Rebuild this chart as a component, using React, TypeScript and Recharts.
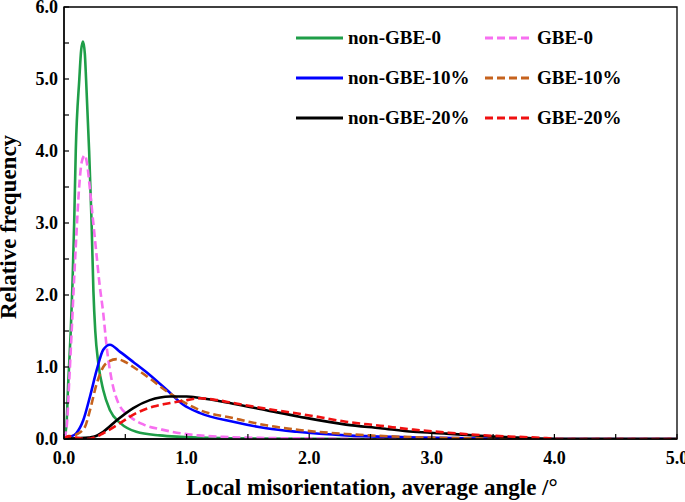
import React from 'react';
import { LineChart, Line, XAxis, YAxis, ReferenceArea, Legend } from 'recharts';

// [angle, relative frequency] pairs
const nonGbe0: [number, number][] = [
  [0, 0], [0.02, 0.2], [0.035, 0.8], [0.055, 1.5], [0.07, 2.2], [0.083, 3.0], [0.096, 4.0],
  [0.125, 5.0], [0.14, 5.4], [0.155, 5.52], [0.17, 5.35], [0.18, 5.0], [0.205, 4.0],
  [0.225, 3.0], [0.24, 2.05], [0.255, 1.5], [0.28, 1.05], [0.32, 0.68], [0.375, 0.4],
  [0.46, 0.22], [0.59, 0.1], [0.78, 0.05], [0.95, 0.03], [1.2, 0.015], [1.6, 0.005],
  [2.5, 0], [5, 0],
];
const gbe0: [number, number][] = [
  [0, 0], [0.022, 0.17], [0.043, 0.82], [0.063, 1.51], [0.082, 2.2], [0.1, 2.8],
  [0.122, 3.46], [0.145, 3.85], [0.17, 3.94], [0.19, 3.8], [0.212, 3.46], [0.239, 3.0],
  [0.267, 2.53], [0.29, 2.15], [0.32, 1.75], [0.348, 1.28], [0.389, 0.82], [0.443, 0.5],
  [0.54, 0.31], [0.65, 0.2], [0.8, 0.13], [0.95, 0.08], [1.1, 0.05], [1.3, 0.03],
  [1.6, 0.015], [2.0, 0.008], [2.6, 0], [5, 0],
];
const nonGbe10: [number, number][] = [
  [0, 0], [0.05, 0.03], [0.1, 0.08], [0.157, 0.26], [0.212, 0.59], [0.267, 0.96],
  [0.32, 1.24], [0.375, 1.31], [0.457, 1.21], [0.565, 1.07], [0.7, 0.89], [0.84, 0.68],
  [0.97, 0.48], [1.11, 0.36], [1.38, 0.24], [1.65, 0.15], [1.9, 0.1], [2.3, 0.05],
  [2.8, 0.025], [3.3, 0.01], [3.8, 0], [5, 0],
];
const gbe10: [number, number][] = [
  [0, 0], [0.05, 0.02], [0.1, 0.06], [0.171, 0.17], [0.212, 0.4], [0.267, 0.77],
  [0.32, 1.0], [0.37, 1.08], [0.43, 1.11], [0.5, 1.07], [0.565, 1.0], [0.7, 0.84],
  [0.84, 0.66], [0.97, 0.52], [1.11, 0.4], [1.38, 0.29], [1.65, 0.19], [1.92, 0.125],
  [2.3, 0.07], [2.85, 0.025], [3.4, 0.008], [3.8, 0], [5, 0],
];
const nonGbe20: [number, number][] = [
  [0, 0], [0.1, 0.01], [0.2, 0.02], [0.24, 0.03], [0.32, 0.1], [0.43, 0.26],
  [0.565, 0.43], [0.7, 0.54], [0.865, 0.59], [1.0, 0.59], [1.11, 0.57], [1.38, 0.49],
  [1.65, 0.4], [1.92, 0.31], [2.3, 0.2], [2.58, 0.15], [2.85, 0.1], [3.12, 0.075],
  [3.39, 0.045], [3.7, 0.02], [4.0, 0], [5, 0],
];
const gbe20: [number, number][] = [
  [0, 0], [0.04, 0.04], [0.1, 0.02], [0.18, 0], [0.25, 0.02], [0.32, 0.08],
  [0.457, 0.22], [0.59, 0.36], [0.73, 0.45], [0.865, 0.5], [0.97, 0.53], [1.11, 0.565],
  [1.25, 0.54], [1.38, 0.5], [1.65, 0.42], [1.92, 0.35], [2.03, 0.32], [2.3, 0.24],
  [2.58, 0.185], [2.85, 0.13], [3.12, 0.09], [3.39, 0.055], [3.85, 0.02], [4.1, 0], [5, 0],
];

const xTicks = [0, 0.5, 1, 1.5, 2, 2.5, 3, 3.5, 4, 4.5, 5];
const yTicks = [0, 0.5, 1, 1.5, 2, 2.5, 3, 3.5, 4, 4.5, 5, 5.5, 6];

const FONT = '"Liberation Serif", "Times New Roman", serif';

const SERIES = [
  { name: 'non-GBE-0', data: nonGbe0, color: '#1f9e48', dash: undefined },
  { name: 'GBE-0', data: gbe0, color: '#f76ff0', dash: '8 4' },
  { name: 'non-GBE-10%', data: nonGbe10, color: '#0000ff', dash: undefined },
  { name: 'GBE-10%', data: gbe10, color: '#c6621d', dash: '8 4' },
  { name: 'non-GBE-20%', data: nonGbe20, color: '#000000', dash: undefined },
  { name: 'GBE-20%', data: gbe20, color: '#f01010', dash: '8 4' },
];

const toPoints = (pairs: [number, number][]) => pairs.map(([x, y]) => ({ x, y }));

const XTick = (props: any) => {
  const { x, y, payload } = props;
  const major = Number.isInteger(payload.value);
  return (
    <g>
      <line x1={x} y1={y} x2={x} y2={y - 5} stroke="#000" strokeWidth={1.2} />
      {major && (
        <text x={x} y={y + 25} textAnchor="middle" fontFamily={FONT} fontWeight="bold" fontSize={18} fill="#000">
          {payload.value.toFixed(1)}
        </text>
      )}
    </g>
  );
};

const YTick = (props: any) => {
  const { x, y, payload } = props;
  const major = Number.isInteger(payload.value);
  return (
    <g>
      <line x1={x} y1={y} x2={x + 5} y2={y} stroke="#000" strokeWidth={1.2} />
      {major && (
        <text x={x - 6} y={y + 6} textAnchor="end" fontFamily={FONT} fontWeight="bold" fontSize={18} fill="#000">
          {payload.value.toFixed(1)}
        </text>
      )}
    </g>
  );
};

const YTitle = () => (
  <text x={16} y={227} transform="rotate(-90 16 227)" textAnchor="middle" fontFamily={FONT} fontWeight="bold" fontSize={23} fill="#000">
    Relative frequency
  </text>
);

const XTitle = () => (
  <text x={372} y={495} textAnchor="middle" fontFamily={FONT} fontWeight="bold" fontSize={23} fill="#000">
    Local misorientation, average angle /°
  </text>
);

const LegendBox = () => (
  <div style={{ position: 'relative', width: 380, height: 120 }}>
    {SERIES.map((s, i) => {
      const col = i % 2;
      const row = Math.floor(i / 2);
      return (
        <div
          key={s.name}
          style={{ position: 'absolute', left: col * 189, top: row * 40, height: 40, display: 'flex', alignItems: 'center' }}
        >
          <svg width={47} height={6}>
            <line x1={0} y1={3} x2={47} y2={3} stroke={s.color} strokeWidth={3} strokeDasharray={s.dash} />
          </svg>
          <span style={{ marginLeft: 5, fontFamily: FONT, fontWeight: 'bold', fontSize: 19, color: '#000', whiteSpace: 'nowrap' }}>
            {s.name}
          </span>
        </div>
      );
    })}
  </div>
);

export default function App() {
  return (
    <div style={{ position: 'absolute', left: 0, top: 0, width: 685, height: 502, background: '#fff' }}>
      <LineChart width={685} height={502} margin={{ top: 7, right: 8, bottom: 0, left: 0 }}>
        <XAxis
          type="number"
          dataKey="x"
          domain={[0, 5]}
          ticks={xTicks}
          interval={0}
          height={63}
          tickSize={0}
          tickMargin={0}
          tickLine={false}
          tick={<XTick />}
          axisLine={{ stroke: '#000', strokeWidth: 1.3 }}
          allowDataOverflow
          label={XTitle}
        />
        <YAxis
          type="number"
          dataKey="y"
          domain={[0, 6]}
          ticks={yTicks}
          interval={0}
          width={64}
          tickSize={0}
          tickMargin={0}
          tickLine={false}
          tick={<YTick />}
          axisLine={{ stroke: '#000', strokeWidth: 1.3 }}
          allowDataOverflow
          label={YTitle}
        />
        <ReferenceArea x1={0} x2={5} y1={0} y2={6} fill="none" stroke="#000" strokeWidth={1.3} ifOverflow="visible" />
        {SERIES.map((s) => (
          <Line
            key={s.name}
            data={toPoints(s.data)}
            dataKey="y"
            name={s.name}
            type="monotone"
            stroke={s.color}
            strokeWidth={2.6}
            strokeDasharray={s.dash}
            dot={false}
            activeDot={false}
            isAnimationActive={false}
          />
        ))}
        <Legend
          layout="horizontal"
          verticalAlign="middle"
          align="center"
          content={LegendBox}
          wrapperStyle={{ top: 18, left: 296, width: 380, height: 120 }}
        />
      </LineChart>
    </div>
  );
}
